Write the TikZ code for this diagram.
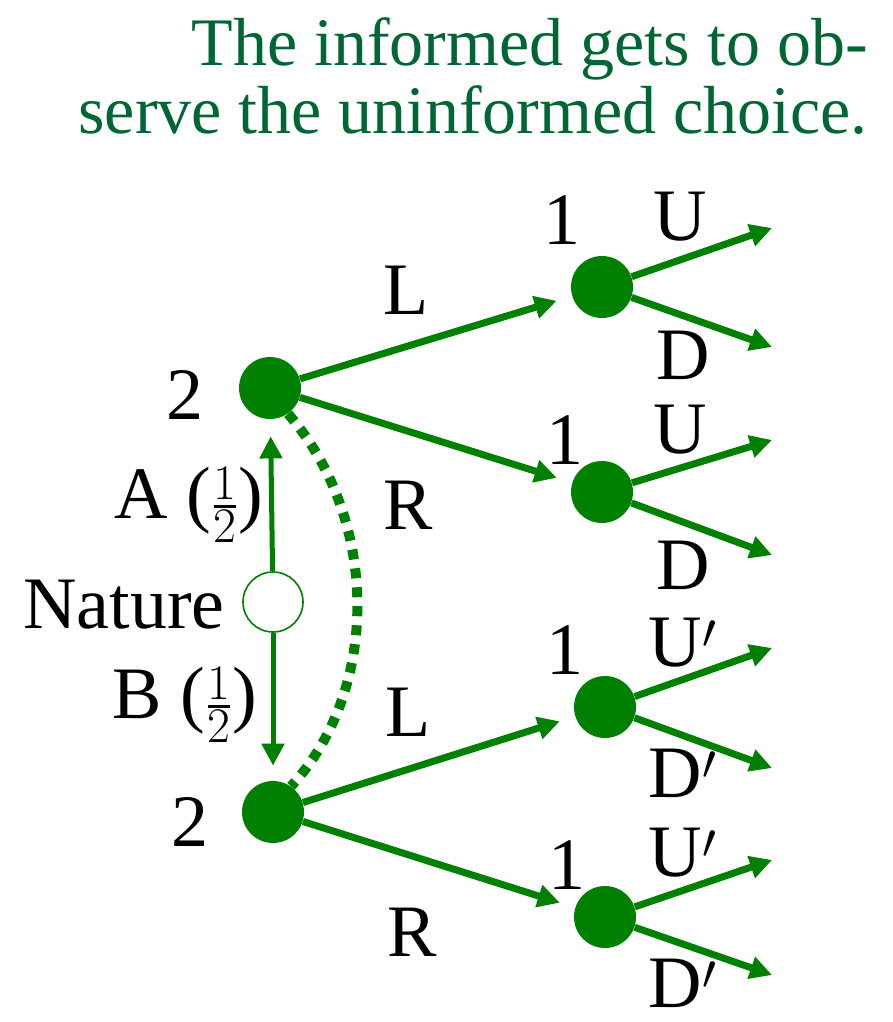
\documentclass[tikz,border=0pt]{standalone}
\usepackage{amsmath,amssymb}
\usepackage{fontspec}
\setmainfont{Liberation Serif}
\usetikzlibrary{positioning,calc}
\usetikzlibrary{arrows.meta}
\definecolor{TreeGreen}{RGB}{0,128,0}
\definecolor{NoteGreen}{RGB}{0,102,51}
\tikzset{
	dec/.style={circle,fill=TreeGreen,minimum size=31pt,inner sep=0pt},
	chance/.style={circle,draw=TreeGreen,fill=white,line width=0.8pt,minimum size=30pt,inner sep=0pt},
	move/.style={draw=TreeGreen,line width=3.5pt,-{Triangle[length=11pt,width=11pt]}},
	lbl/.style={font=\fontsize{37}{42}\selectfont,inner sep=0pt},
	infoset/.style={draw=TreeGreen,line width=5pt,dash pattern=on 5pt off 4.5pt},
}

\begin{document}
\begin{tikzpicture}[x=0.5pt,y=-0.5pt]
	\useasboundingbox (0,0) rectangle (893,1022);
	\node[text=NoteGreen,align=right,anchor=north east,inner sep=0pt,font=\fontsize{34}{34}\selectfont] (note) at (868,17)
		{The informed gets to ob-\\serve the uninformed choice.};
	% tree nodes
	\node[chance] (nat) at (273,602) {};
	\node[dec] (n2a) at (270,388) {};
	\node[dec] (n2b) at (273,812) {};
	\node[dec] (n1a) at (602,287) {};
	\node[dec] (n1b) at (602,492) {};
	\node[dec] (n1c) at (605,707) {};
	\node[dec] (n1d) at (605,917) {};
	% free ends of the last moves
	\coordinate (ua) at (772,228);
	\coordinate (da) at (772,347);
	\coordinate (ub) at (772,440);
	\coordinate (db) at (772,555);
	\coordinate (uc) at (772,648);
	\coordinate (dc) at (772,768);
	\coordinate (ud) at (772,860);
	\coordinate (dd) at (772,975);
	% moves
	\draw[move,line width=2.5pt,shorten >=8.5pt] (nat) -- (n2a);
	\draw[move,line width=2.5pt,shorten >=7.5pt] (nat) -- (n2b);
	\foreach \x/\y in {n2a/n1a,n2a/n1b,n2b/n1c,n2b/n1d}
	\draw[move,shorten >=8pt] (\x) -- (\y);
	\foreach \x/\y in {n1a/ua,n1a/da,n1b/ub,n1b/db,n1c/uc,n1c/dc,n1d/ud,n1d/dd}
	\draw[move] (\x) -- (\y);
	\draw[infoset] (n2a.-55) .. controls (380,520) and (380,690) .. (n2b.55);
	% labels
	\node[lbl] (nattxt) at (124,605) {Nature};
	\node[lbl] (atxt) at (189,505) {A (\(\frac{1}{2}\))};
	\node[lbl] (btxt) at (185,705) {B (\(\frac{1}{2}\))};
	\foreach \n/\x/\y/\t in {p2a/185/395/2,p2b/190/822/2,
		p1a/562/220/1,p1b/565/440/1,p1c/565/650/1,p1d/567/865/1,
		la/406/290/L,ra/408/505/R,lb/408/712/L,rb/412/932/R,
		tua/680/217/U,tda/683/355/D,tub/680/430/U,tdb/683/565/D}
	\node[lbl] (\n) at (\x,\y) {\t};
	\foreach \n/\x/\y/\t in {tuc/683/643/U,tdc/683/773/D,tud/683/853/U,tdd/683/983/D}
	\node[lbl] (\n) at (\x,\y) {\t\(\mathsf{}'\)};
\end{tikzpicture}
\end{document}
